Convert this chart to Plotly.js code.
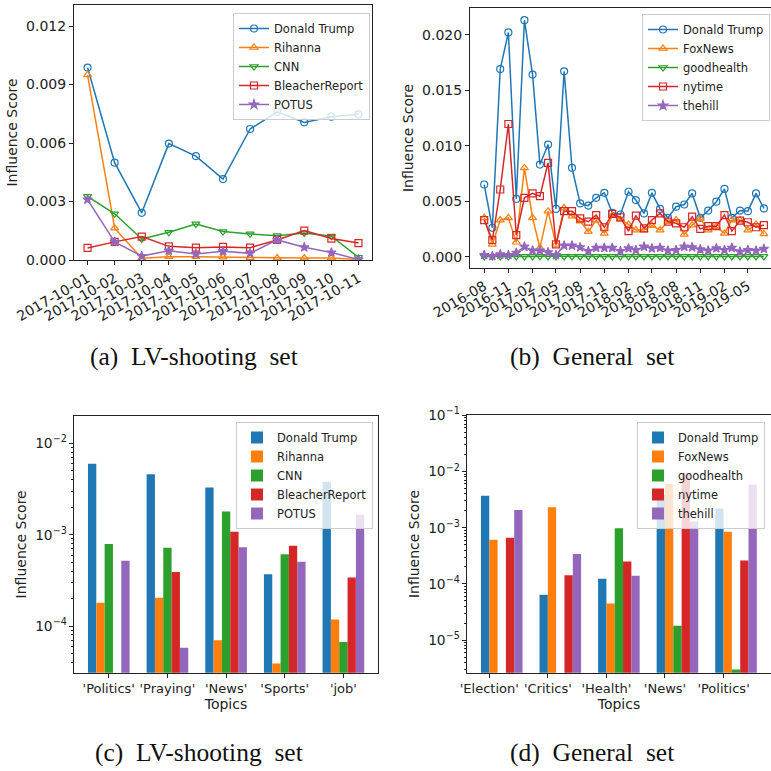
<!DOCTYPE html>
<html>
<head>
<meta charset="utf-8">
<script src="https://cdn.plot.ly/plotly-3.0.1.min.js"></script>
<style>html,body{margin:0;padding:0;background:#fff;}#chart{width:771px;height:771px;}</style>
</head>
<body>
<div id="chart"></div>
<script>
// ---------- (a) LV-shooting set : daily influence ----------
const daysA = ['2017-10-01','2017-10-02','2017-10-03','2017-10-04','2017-10-05','2017-10-06','2017-10-07','2017-10-08','2017-10-09','2017-10-10','2017-10-11'];
const trumpA   = [0.00987,0.00499,0.00242,0.00597,0.00533,0.00415,0.00672,0.00760,0.00706,0.00735,0.00747];
const rihannaA = [0.00950,0.00163,0.00009,0.00017,0.00017,0.00015,0.00012,0.00010,0.00010,0.00010,0.00003];
const cnnA     = [0.00326,0.00237,0.00108,0.00142,0.00185,0.00146,0.00134,0.00125,0.00139,0.00122,0.00014];
const bleachA  = [0.00062,0.00093,0.00120,0.00070,0.00063,0.00067,0.00063,0.00103,0.00151,0.00110,0.00087];
const potusA   = [0.00310,0.00093,0.00020,0.00048,0.00031,0.00045,0.00034,0.00103,0.00065,0.00038,0.00003];

// ---------- (b) General set : monthly influence ----------
const monthsB = ['2016-08','2016-09','2016-10','2016-11','2016-12','2017-01','2017-02','2017-03','2017-04','2017-05','2017-06','2017-07',
                 '2017-08','2017-09','2017-10','2017-11','2017-12','2018-01','2018-02','2018-03','2018-04','2018-05','2018-06','2018-07',
                 '2018-08','2018-09','2018-10','2018-11','2018-12','2019-01','2019-02','2019-03','2019-04','2019-05','2019-06','2019-07'];
const trumpB = [0.0065,0.0026,0.0169,0.0202,0.0052,0.0213,0.0164,0.0083,0.0101,0.0043,0.0167,0.0080,
                0.0048,0.0046,0.0053,0.00575,0.00395,0.0038,0.00585,0.0051,0.0039,0.00575,0.0043,0.0035,
                0.0045,0.0047,0.0057,0.0035,0.00415,0.00495,0.0061,0.0035,0.00415,0.0041,0.0057,0.00435];
const foxB   = [0.0035,0.0011,0.0033,0.0035,0.0013,0.0080,0.0035,0.0008,0.0041,0.0011,0.0044,0.00365,
                0.0032,0.00225,0.0033,0.0021,0.0037,0.00335,0.0029,0.0024,0.0024,0.0028,0.0024,0.00315,
                0.0033,0.0020,0.00285,0.00345,0.0024,0.0027,0.0021,0.0033,0.0033,0.0024,0.0029,0.00205];
const goodB  = [0.00002,0.00001,0.00002,0.00001,0.00002,0.00002,0.00002,0.00003,0.00002,0.00002,0.00002,0.00002,
                0.00002,0.00002,0.00002,0.00002,0.00002,0.00002,0.00002,0.00002,0.00002,0.00002,0.00002,0.00002,
                0.00002,0.00002,0.00002,0.00002,0.00002,0.00002,0.00002,0.00002,0.00002,0.00002,0.00002,0.00002];
const nytB   = [0.0033,0.0015,0.00605,0.01195,0.00195,0.0053,0.0057,0.00545,0.00845,0.0011,0.0041,0.0041,
                0.00345,0.00315,0.00375,0.00265,0.00385,0.00355,0.0023,0.0037,0.00255,0.0033,0.0039,0.00315,
                0.0030,0.00265,0.0036,0.0025,0.00275,0.00275,0.00375,0.0023,0.00325,0.0031,0.00265,0.00285];
const hillB  = [0.00015,0.00005,0.0002,0.00015,0.00035,0.0009,0.00055,0.00055,0.0004,0.00015,0.0010,0.0010,
                0.00085,0.0005,0.0008,0.0008,0.0008,0.0005,0.00075,0.0006,0.0009,0.00075,0.0008,0.00055,
                0.0006,0.0009,0.00085,0.00065,0.00055,0.00075,0.0006,0.0008,0.00045,0.0006,0.00055,0.0007];

// ---------- (c) LV-shooting set : topics ----------
const topicsC   = ["'Politics'","'Praying'","'News'","'Sports'","'job'"];
const trumpC    = [6.0e-3, 4.6e-3, 3.3e-3, 3.7e-4, 3.8e-3];
const rihannaC  = [1.8e-4, 2.05e-4, 7.0e-5, 3.9e-5, 1.18e-4];
const cnnC      = [7.9e-4, 7.2e-4, 1.8e-3, 6.1e-4, 6.7e-5];
const bleachC   = [null, 3.9e-4, 1.08e-3, 7.6e-4, 3.4e-4];
const potusC    = [5.2e-4, 5.8e-5, 7.3e-4, 5.05e-4, 1.66e-3];

// ---------- (d) General set : topics ----------
const topicsD = ["'Election'","'Critics'","'Health'","'News'","'Politics'"];
const trumpD  = [3.7e-3, 6.4e-5, 1.23e-4, 3.8e-3, 2.2e-3];
const foxD    = [6.1e-4, 2.3e-3, 4.5e-5, 6.0e-3, 8.5e-4];
const goodD   = [null, null, 9.8e-4, 1.8e-5, 3.0e-6];
const nytD    = [6.6e-4, 1.43e-4, 2.5e-4, 8.6e-3, 2.6e-4];
const hillD   = [2.07e-3, 3.4e-4, 1.39e-4, 1.29e-3, 5.9e-3];

const C = ['#1f77b4','#ff7f0e','#2ca02c','#d62728','#9467bd'];
const SYM = ['circle-open','triangle-up-open','triangle-down-open','square-open','star'];

function lineTrace(x, y, name, i, xa, ya, lg){
  return {type:'scatter', mode:'lines+markers', x:x, y:y, name:name, xaxis:xa, yaxis:ya, legend:lg,
    line:{color:C[i], width:1.5},
    marker:{symbol:SYM[i], size:7, color:C[i], line:{color:C[i], width:1.2}}};
}
const W = 0.142;
function barTrace(x, y, name, i, off, xa, ya, lg){
  return {type:'bar', x:x, y:y, name:name, xaxis:xa, yaxis:ya, legend:lg,
    width:W, offset:off*W, marker:{color:C[i], line:{width:0}}};
}

const traces = [
  lineTrace(daysA, trumpA, 'Donald Trump', 0, 'x', 'y', 'legend'),
  lineTrace(daysA, rihannaA, 'Rihanna', 1, 'x', 'y', 'legend'),
  lineTrace(daysA, cnnA, 'CNN', 2, 'x', 'y', 'legend'),
  lineTrace(daysA, bleachA, 'BleacherReport', 3, 'x', 'y', 'legend'),
  lineTrace(daysA, potusA, 'POTUS', 4, 'x', 'y', 'legend'),

  lineTrace(monthsB, trumpB, 'Donald Trump', 0, 'x2', 'y2', 'legend2'),
  lineTrace(monthsB, foxB, 'FoxNews', 1, 'x2', 'y2', 'legend2'),
  lineTrace(monthsB, goodB, 'goodhealth', 2, 'x2', 'y2', 'legend2'),
  lineTrace(monthsB, nytB, 'nytime', 3, 'x2', 'y2', 'legend2'),
  lineTrace(monthsB, hillB, 'thehill', 4, 'x2', 'y2', 'legend2'),

  barTrace(topicsC, trumpC, 'Donald Trump', 0, -2.5, 'x3', 'y3', 'legend3'),
  barTrace(topicsC, rihannaC, 'Rihanna', 1, -1.5, 'x3', 'y3', 'legend3'),
  barTrace(topicsC, cnnC, 'CNN', 2, -0.5, 'x3', 'y3', 'legend3'),
  barTrace(topicsC, bleachC, 'BleacherReport', 3, 0.5, 'x3', 'y3', 'legend3'),
  barTrace(topicsC, potusC, 'POTUS', 4, 1.5, 'x3', 'y3', 'legend3'),

  barTrace(topicsD, trumpD, 'Donald Trump', 0, -1, 'x4', 'y4', 'legend4'),
  barTrace(topicsD, foxD, 'FoxNews', 1, 0, 'x4', 'y4', 'legend4'),
  barTrace(topicsD, goodD, 'goodhealth', 2, 1, 'x4', 'y4', 'legend4'),
  barTrace(topicsD, nytD, 'nytime', 3, 2, 'x4', 'y4', 'legend4'),
  barTrace(topicsD, hillD, 'thehill', 4, 3, 'x4', 'y4', 'legend4')
];

const P = v => v/771;
const TF = {family:'DejaVu Sans', size:14, color:'#222'};
const CF = {family:'DejaVu Sans', size:13, color:'#222'};
const ax = {showline:true, mirror:true, linecolor:'#222', linewidth:1, ticks:'outside', ticklen:4, tickwidth:1,
  tickcolor:'#222', showgrid:false, zeroline:false, tickfont:TF};
const ytitle = {text:'Influence Score', font:TF, standoff:5};
const logMinor = {ticks:'outside', ticklen:2, tickcolor:'#222', dtick:'D1', showgrid:false};
const LOGF = {family:'DejaVu Sans', size:11, color:'#222'};
const lg = (x, y) => ({x:P(x), y:1-P(y), xanchor:'left', yanchor:'top', bgcolor:'rgba(255,255,255,0.8)',
  bordercolor:'#cccccc', borderwidth:1, font:{family:'DejaVu Sans', size:11.5, color:'#222'}, itemwidth:30, tracegroupgap:0});
const CAP = {family:'Liberation Serif', size:25.5, color:'#111'};

const layout = {
  width:771, height:771, margin:{l:0, r:0, t:0, b:0}, paper_bgcolor:'#fff', plot_bgcolor:'#fff',
  font:{family:'DejaVu Sans', size:13, color:'#222'}, showlegend:true, barmode:'overlay',
  xaxis: Object.assign({}, ax, {domain:[P(74), P(372)], anchor:'y', type:'category', range:[-0.5, 10.5], tickangle:-30}),
  yaxis: Object.assign({}, ax, {domain:[1-P(260), 1-P(5)], anchor:'x', range:[0, 0.01308], dtick:0.003, tickformat:'.3f', title:ytitle}),
  xaxis2: Object.assign({}, ax, {domain:[P(470), 1], anchor:'y2', type:'date', range:['2016-06-08','2019-07-28'],
    dtick:'M3', tick0:'2016-08-01', tickformat:'%Y-%m', tickangle:-30}),
  yaxis2: Object.assign({}, ax, {domain:[1-P(268), 1-P(8)], anchor:'x2', range:[-0.00102, 0.0224], dtick:0.005, tickformat:'.3f', title:ytitle}),
  xaxis3: Object.assign({}, ax, {domain:[P(74), P(378)], anchor:'y3', type:'category', range:[-0.593, 4.59],
    tickangle:0, tickfont:CF, title:{text:'Topics', font:TF, standoff:2}}),
  yaxis3: Object.assign({}, ax, {domain:[1-P(672.7), 1-P(416)], anchor:'x3', type:'log', range:[-4.51, -1.70], dtick:1,
    exponentformat:'power', tickfont:LOGF, minor:logMinor, title:ytitle}),
  xaxis4: Object.assign({}, ax, {domain:[P(467), 1], anchor:'y4', type:'category', range:[-0.38, 4.81],
    tickangle:0, tickfont:CF, title:{text:'Topics', font:TF, standoff:2}}),
  yaxis4: Object.assign({}, ax, {domain:[1-P(672.7), 1-P(415.3)], anchor:'x4', type:'log', range:[-5.58, -1], dtick:1,
    exponentformat:'power', tickfont:LOGF, minor:logMinor, title:ytitle}),
  legend: lg(233, 13),
  legend2: lg(642, 14),
  legend3: lg(236, 422),
  legend4: lg(637, 422),
  annotations: [
    {text:'(a)  LV-shooting  set', x:P(194), y:1-P(356), xref:'paper', yref:'paper', showarrow:false, xanchor:'center', yanchor:'middle', font:CAP},
    {text:'(b)  General  set', x:P(592), y:1-P(356), xref:'paper', yref:'paper', showarrow:false, xanchor:'center', yanchor:'middle', font:CAP},
    {text:'(c)  LV-shooting  set', x:P(199), y:1-P(752), xref:'paper', yref:'paper', showarrow:false, xanchor:'center', yanchor:'middle', font:CAP},
    {text:'(d)  General  set', x:P(592), y:1-P(752), xref:'paper', yref:'paper', showarrow:false, xanchor:'center', yanchor:'middle', font:CAP}
  ]
};

Plotly.newPlot('chart', traces, layout, {displayModeBar:false, staticPlot:true});
</script>
</body>
</html>
